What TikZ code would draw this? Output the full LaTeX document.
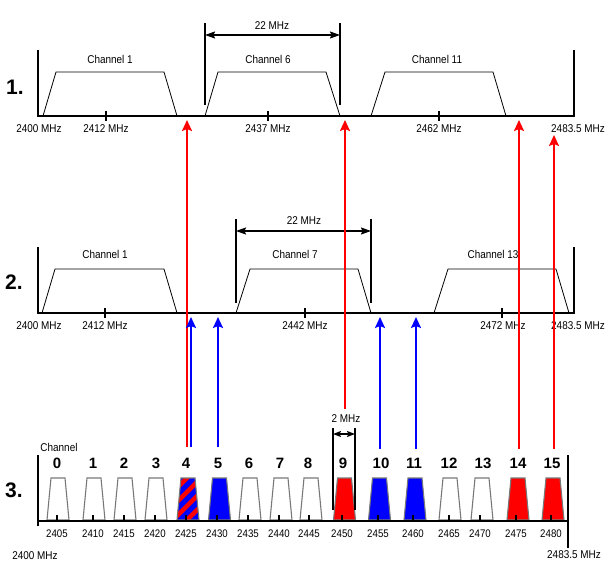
\documentclass[tikz,border=0pt]{standalone}
\usepackage{fontspec}
\setmainfont{Liberation Sans}
\newfontfamily\narrowfont[FakeStretch=0.88]{Liberation Sans}
\usetikzlibrary{arrows.meta}
\definecolor{wifired}{RGB}{255,0,0}
\definecolor{wifiblue}{RGB}{0,0,255}
\definecolor{bandgray}{RGB}{120,120,120}

\begin{document}
\begin{tikzpicture}[x=1pt, y=-1pt,
        lbl/.style={font=\narrowfont\fontsize{11.3}{13}\selectfont, inner sep=0pt},
        freq/.style={font=\narrowfont\fontsize{11}{12}\selectfont, inner sep=0pt},
        chnum/.style={font=\bfseries\fontsize{15}{17}\selectfont, inner sep=0pt},
        panel/.style={font=\bfseries\fontsize{21}{24}\selectfont, inner sep=0pt},
        wide band/.style={draw, line width=0.8pt, line join=miter},
        narrow band/.style={draw=bandgray, line width=1.1pt, fill=white},
        axis/.style={line width=2pt},
        red arrow/.style={draw=wifired, line width=2pt, -{Stealth[width=10pt,length=11pt,inset=2pt]}},
        blue arrow/.style={draw=wifiblue, line width=2pt, -{Stealth[width=10pt,length=11pt,inset=2pt]}},
        span/.style={line width=1.5pt, {Stealth[width=7pt,length=10pt,inset=1.5pt]}-{Stealth[width=7pt,length=10pt,inset=1.5pt]}},
        small span/.style={line width=1.5pt, {Stealth[width=6pt,length=8pt,inset=1.5pt]}-{Stealth[width=6pt,length=8pt,inset=1.5pt]}}]
        \useasboundingbox (0,0) rectangle (610,580);

        % 1. non-overlapping channels 1, 6, 11
        \node[panel](P1) at (15,87) {1.};
        \draw[wide band] (43,116) -- (56,72) -- (164,72) -- (177,116);
        \draw[wide band] (205,116) -- (218,72) -- (326,72) -- (340,116);
        \draw[wide band] (371,116) -- (385,72) -- (493,72) -- (506,116);
        \node[lbl](A1 name) at (110,59) {Channel 1};
        \node[lbl](A6 name) at (268,59) {Channel 6};
        \node[lbl](A11 name) at (437,59) {Channel 11};
        \draw[axis] (38,50) -- (38,116) -- (574,116) -- (574,50);
        \draw[axis] (106,111) -- (106,121) (268,111) -- (268,121) (439,111) -- (439,121);
        \node[lbl](A f0) at (39,129) {2400 MHz};
        \node[lbl](A f1) at (106,129) {2412 MHz};
        \node[lbl](A f6) at (268,129) {2437 MHz};
        \node[lbl](A f11) at (439,129) {2462 MHz};
        \node[lbl](A fmax) at (578,129) {2483.5 MHz};
        \coordinate (A left top) at (205,23);
        \coordinate (A left foot) at (205,105);
        \coordinate (A right top) at (340,23);
        \coordinate (A right foot) at (340,105);
        \coordinate (A left) at (205,35);
        \coordinate (A right) at (340,35);
        \draw[axis] (A left top) -- (A left foot);
        \draw[axis] (A right top) -- (A right foot);
        \draw[span] (A left) -- (A right);
        \node[lbl](A width) at (272,26) {22 MHz};

        % 2. channels 1, 7, 13
        \node[panel](P2) at (14,282) {2.};
        \draw[wide band] (42,313) -- (55,269) -- (164,269) -- (177,313);
        \draw[wide band] (236,313) -- (250,269) -- (358,269) -- (371,313);
        \draw[wide band] (434,313) -- (448,269) -- (556,269) -- (569,313);
        \node[lbl](B1 name) at (105,254) {Channel 1};
        \node[lbl](B7 name) at (295,254) {Channel 7};
        \node[lbl](B13 name) at (493,254) {Channel 13};
        \draw[axis] (38,247) -- (38,313) -- (574,313) -- (574,247);
        \draw[axis] (105,308) -- (105,318) (305,308) -- (305,318) (502,308) -- (502,318);
        \node[lbl](B f0) at (39,326) {2400 MHz};
        \node[lbl](B f1) at (105,326) {2412 MHz};
        \node[lbl](B f7) at (305,326) {2442 MHz};
        \node[lbl](B f13) at (503,326) {2472 MHz};
        \node[lbl](B fmax) at (578,326) {2483.5 MHz};
        \coordinate (B left top) at (236,219);
        \coordinate (B left foot) at (236,303);
        \coordinate (B right top) at (371,219);
        \coordinate (B right foot) at (371,303);
        \coordinate (B left) at (236,231);
        \coordinate (B right) at (371,231);
        \draw[axis] (B left top) -- (B left foot);
        \draw[axis] (B right top) -- (B right foot);
        \draw[span] (B left) -- (B right);
        \node[lbl](B width) at (304,221) {22 MHz};

        % 3. sixteen 2 MHz channels
        \node[panel](P3) at (14,490) {3.};
        \node[lbl](C title) at (59,447) {Channel};
        \filldraw[narrow band] (47,520) -- ++(4,-42) -- ++(14,0) -- ++(4,42) -- cycle;
        \filldraw[narrow band] (83,520) -- ++(4,-42) -- ++(14,0) -- ++(4,42) -- cycle;
        \filldraw[narrow band] (114,520) -- ++(4,-42) -- ++(14,0) -- ++(4,42) -- cycle;
        \filldraw[narrow band] (145,520) -- ++(4,-42) -- ++(14,0) -- ++(4,42) -- cycle;
        \begin{scope}
            \clip (177,520) -- ++(4,-42) -- ++(14,0) -- ++(4,42) -- cycle;
            \fill[wifired] (170,470) rectangle (206,525);
            \draw[wifiblue, line width=5pt] (160,540) -- ++(60,-60) (160,526) -- ++(60,-60) (160,512) -- ++(60,-60)
                (160,498) -- ++(60,-60) (160,554) -- ++(60,-60);
        \end{scope}
        \draw[narrow band, fill=none] (177,520) -- ++(4,-42) -- ++(14,0) -- ++(4,42) -- cycle;
        \filldraw[narrow band, fill=wifiblue] (208.5,520) -- ++(4,-42) -- ++(14,0) -- ++(4,42) -- cycle;
        \filldraw[narrow band] (239,520) -- ++(4,-42) -- ++(14,0) -- ++(4,42) -- cycle;
        \filldraw[narrow band] (270,520) -- ++(4,-42) -- ++(14,0) -- ++(4,42) -- cycle;
        \filldraw[narrow band] (300,520) -- ++(4,-42) -- ++(14,0) -- ++(4,42) -- cycle;
        \filldraw[narrow band, fill=wifired] (333.5,520) -- ++(4,-42) -- ++(14,0) -- ++(4,42) -- cycle;
        \filldraw[narrow band, fill=wifiblue] (368.5,520) -- ++(4,-42) -- ++(14,0) -- ++(4,42) -- cycle;
        \filldraw[narrow band, fill=wifiblue] (404,520) -- ++(4,-42) -- ++(14,0) -- ++(4,42) -- cycle;
        \filldraw[narrow band] (439,520) -- ++(4,-42) -- ++(14,0) -- ++(4,42) -- cycle;
        \filldraw[narrow band] (471,520) -- ++(4,-42) -- ++(14,0) -- ++(4,42) -- cycle;
        \filldraw[narrow band, fill=wifired] (507,520) -- ++(4,-42) -- ++(14,0) -- ++(4,42) -- cycle;
        \filldraw[narrow band, fill=wifired] (542,520) -- ++(4,-42) -- ++(14,0) -- ++(4,42) -- cycle;
        \node[chnum](C0 num) at (57,463) {0};   \node[freq](C0 f) at (57,534) {2405};
        \node[chnum](C1 num) at (93,463) {1};   \node[freq](C1 f) at (93,534) {2410};
        \node[chnum](C2 num) at (124,463) {2};  \node[freq](C2 f) at (124,534) {2415};
        \node[chnum](C3 num) at (156,463) {3};  \node[freq](C3 f) at (155,534) {2420};
        \node[chnum](C4 num) at (186,463) {4};  \node[freq](C4 f) at (186,534) {2425};
        \node[chnum](C5 num) at (218,463) {5};  \node[freq](C5 f) at (217,534) {2430};
        \node[chnum](C6 num) at (249,463) {6};  \node[freq](C6 f) at (248,534) {2435};
        \node[chnum](C7 num) at (280,463) {7};  \node[freq](C7 f) at (279,534) {2440};
        \node[chnum](C8 num) at (308,463) {8};  \node[freq](C8 f) at (309,534) {2445};
        \node[chnum](C9 num) at (343,463) {9};  \node[freq](C9 f) at (342,534) {2450};
        \node[chnum](C10 num) at (381,463) {10}; \node[freq](C10 f) at (378,534) {2455};
        \node[chnum](C11 num) at (414,463) {11}; \node[freq](C11 f) at (413,534) {2460};
        \node[chnum](C12 num) at (449,463) {12}; \node[freq](C12 f) at (449,534) {2465};
        \node[chnum](C13 num) at (483,463) {13}; \node[freq](C13 f) at (480,534) {2470};
        \node[chnum](C14 num) at (518,463) {14}; \node[freq](C14 f) at (516,534) {2475};
        \node[chnum](C15 num) at (552,463) {15}; \node[freq](C15 f) at (551,534) {2480};
        \draw[axis] (38,455) -- (38,526);
        \draw[axis] (568,455) -- (568,548);
        \draw[axis] (37,521) -- (569,521);
        \draw[line width=1.5pt] (57,515) -- (57,521) (93,515) -- (93,521) (124,515) -- (124,521) (155,515) -- (155,521)
            (186,515) -- (186,521) (217,515) -- (217,521) (248,515) -- (248,521) (279,515) -- (279,521)
            (309,515) -- (309,521) (342,515) -- (342,521) (378,515) -- (378,521) (413,515) -- (413,521)
            (449,515) -- (449,521) (480,515) -- (480,521) (516,515) -- (516,521) (551,515) -- (551,521);
        \node[lbl](C fmin) at (35,556) {2400 MHz};
        \node[lbl](C fmax) at (574,555) {2483.5 MHz};
        \coordinate (C left top) at (333,428);
        \coordinate (C left foot) at (333,510);
        \coordinate (C right top) at (355,428);
        \coordinate (C right foot) at (355,510);
        \coordinate (C left) at (333,434);
        \coordinate (C right) at (355,434);
        \draw[axis] (C left top) -- (C left foot);
        \draw[axis] (C right top) -- (C right foot);
        \draw[small span] (C left) -- (C right);
        \node[lbl](C width) at (346,419) {2 MHz};

        % red: panel 1 gaps down to channels 4, 9, 14, 15
        \coordinate (R4 foot) at (187,447);   \coordinate (R4 tip) at (187,120);
        \coordinate (R9 foot) at (345,409);   \coordinate (R9 tip) at (345,120);
        \coordinate (R14 foot) at (519,449);  \coordinate (R14 tip) at (519,120);
        \coordinate (R15 foot) at (554,449);  \coordinate (R15 tip) at (554,135);
        \draw[red arrow] (R4 foot) -- (R4 tip);
        \draw[red arrow] (R9 foot) -- (R9 tip);
        \draw[red arrow] (R14 foot) -- (R14 tip);
        \draw[red arrow] (R15 foot) -- (R15 tip);

        % blue: panel 2 gaps down to channels 4, 5, 10, 11
        \coordinate (U4 foot) at (191,447);   \coordinate (U4 tip) at (191,317);
        \coordinate (U5 foot) at (218,447);   \coordinate (U5 tip) at (218,317);
        \coordinate (U10 foot) at (380,449);  \coordinate (U10 tip) at (380,317);
        \coordinate (U11 foot) at (416,449);  \coordinate (U11 tip) at (416,317);
        \draw[blue arrow] (U4 foot) -- (U4 tip);
        \draw[blue arrow] (U5 foot) -- (U5 tip);
        \draw[blue arrow] (U10 foot) -- (U10 tip);
        \draw[blue arrow] (U11 foot) -- (U11 tip);
    \end{tikzpicture}
\end{document}
